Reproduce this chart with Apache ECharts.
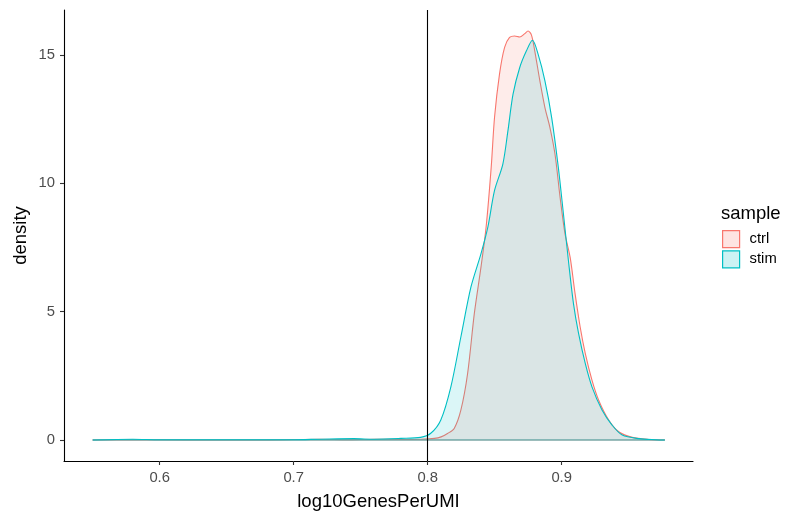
<!DOCTYPE html>
<html>
<head>
<meta charset="utf-8">
<script src="https://cdn.jsdelivr.net/npm/echarts@6/dist/echarts.min.js"></script>
<style>html,body{margin:0;padding:0;background:#fff}#c{width:800px;height:523px}</style>
</head>
<body>
<div id="c"></div>
<script>
const xTicks = [0.6, 0.7, 0.8, 0.9];
const yTicks = [0, 5, 10, 15];
const seriesNames = ['ctrl', 'stim'];
const cutoff = 0.8;

const ctrlX = [0.550,0.580,0.620,0.680,0.720,0.740,0.760,0.780,0.795,0.805,0.810,0.8148,0.8198,0.8248,0.8298,0.8348,0.8398,0.8436,0.8474,0.8499,0.8536,0.8574,0.8611,0.8649,0.8687,0.8724,0.8749,0.8774,0.8799,0.8837,0.8875,0.8912,0.8950,0.8988,0.9025,0.9063,0.9100,0.9138,0.9176,0.9226,0.9276,0.9351,0.9426,0.9527,0.9650,0.977];
const ctrlY = [0.00,0.01,0.00,0.00,0.03,0.01,0.03,0.02,0.03,0.06,0.12,0.25,0.45,1.17,2.59,4.92,6.74,8.29,10.62,12.57,14.25,15.29,15.68,15.74,15.70,15.83,15.93,15.78,15.16,14.00,12.95,12.18,11.14,9.46,8.03,7.12,5.70,4.40,3.37,2.33,1.55,0.78,0.32,0.10,0.02,0.00];

const stimX = [0.550,0.580,0.600,0.650,0.700,0.720,0.745,0.760,0.780,0.7947,0.8023,0.8098,0.8173,0.8248,0.8323,0.8398,0.8449,0.8499,0.8561,0.8599,0.8637,0.8687,0.8737,0.8782,0.8824,0.8875,0.8925,0.8975,0.9013,0.9050,0.9088,0.9126,0.9176,0.9226,0.9301,0.9376,0.9452,0.9577,0.9702,0.977];
const stimY = [0.00,0.03,0.01,0.01,0.01,0.03,0.05,0.03,0.06,0.10,0.26,0.78,2.07,4.02,5.96,7.26,8.29,9.72,10.75,12.05,13.47,14.51,15.16,15.57,15.03,13.99,12.57,10.62,8.81,7.00,5.31,4.15,2.98,2.07,1.17,0.58,0.19,0.05,0.01,0.00];

const colors = ['#F8766D', '#00BFC4'];
const fills = ['rgba(248,118,109,0.2)', 'rgba(0,191,196,0.2)'];
const FONT = 'Liberation Sans';

function pairs(xs, ys) { return xs.map((x, i) => [x, ys[i]]); }
function baseline(xs) { return [[xs[0], 0], [xs[xs.length - 1], 0]]; }

const chart = echarts.init(document.getElementById('c'), null, {renderer: 'canvas'});
chart.setOption({
  animation: false,
  backgroundColor: '#fff',
  grid: {left: 64, right: 107, top: 10, bottom: 62},
  title: {
    text: 'sample', left: 721, top: 204, padding: 0,
    textStyle: {fontFamily: FONT, fontSize: 18.5, fontWeight: 'normal', color: '#000'}
  },
  legend: {
    left: 722, top: 230, orient: 'vertical', itemWidth: 17, itemHeight: 17, itemGap: 2,
    padding: 0,
    textStyle: {fontFamily: FONT, fontSize: 14.8, color: '#000', padding: [0, 0, 0, 5]},
    data: seriesNames.map((n, i) => ({
      name: n, icon: 'rect',
      itemStyle: {color: fills[i], borderColor: colors[i], borderWidth: 1.2}
    }))
  },
  xAxis: {
    type: 'value', min: 0.5286, max: 0.998,
    name: 'log10GenesPerUMI', nameLocation: 'middle', nameGap: 31, nameMoveOverlap: false,
    nameTextStyle: {fontFamily: FONT, fontSize: 18.5, color: '#000'},
    axisLine: {onZero: false, lineStyle: {color: '#000', width: 1.1}},
    axisTick: {show: true, length: 4, lineStyle: {color: '#333', width: 1.1}, customValues: xTicks},
    axisLabel: {fontFamily: FONT, fontSize: 14.8, color: '#4D4D4D', margin: 9, customValues: xTicks,
      formatter: v => v.toFixed(1)},
    splitLine: {show: false}
  },
  yAxis: {
    type: 'value', min: -0.82, max: 16.75,
    name: 'density', nameLocation: 'middle', nameGap: 34, nameRotate: 90, nameMoveOverlap: false,
    nameTextStyle: {fontFamily: FONT, fontSize: 18.5, color: '#000'},
    axisLine: {show: true, onZero: false, lineStyle: {color: '#000', width: 1.1}},
    axisTick: {show: true, length: 4, lineStyle: {color: '#333', width: 1.1}, customValues: yTicks},
    axisLabel: {fontFamily: FONT, fontSize: 14.8, color: '#4D4D4D', margin: 9, customValues: yTicks},
    splitLine: {show: false}
  },
  series: [
    {
      name: seriesNames[0], type: 'line', data: pairs(ctrlX, ctrlY),
      showSymbol: false, smooth: 0.3, z: 2,
      lineStyle: {color: colors[0], width: 1.1},
      itemStyle: {color: colors[0]},
      areaStyle: {color: fills[0], origin: 0}
    },
    {
      name: seriesNames[0] + '_base', type: 'line', data: baseline(ctrlX),
      showSymbol: false, z: 2, silent: true,
      lineStyle: {color: colors[0], width: 1.1}
    },
    {
      name: seriesNames[1], type: 'line', data: pairs(stimX, stimY),
      showSymbol: false, smooth: 0.3, z: 3,
      lineStyle: {color: colors[1], width: 1.1},
      itemStyle: {color: colors[1]},
      areaStyle: {color: fills[1], origin: 0},
      markLine: {
        silent: true, symbol: 'none', label: {show: false},
        lineStyle: {color: '#000', width: 1.1, type: 'solid'},
        data: [{xAxis: cutoff}]
      }
    },
    {
      name: seriesNames[1] + '_base', type: 'line', data: baseline(stimX),
      showSymbol: false, z: 3, silent: true,
      lineStyle: {color: colors[1], width: 1.1, opacity: 0.75}
    }
  ]
});
</script>
</body>
</html>
